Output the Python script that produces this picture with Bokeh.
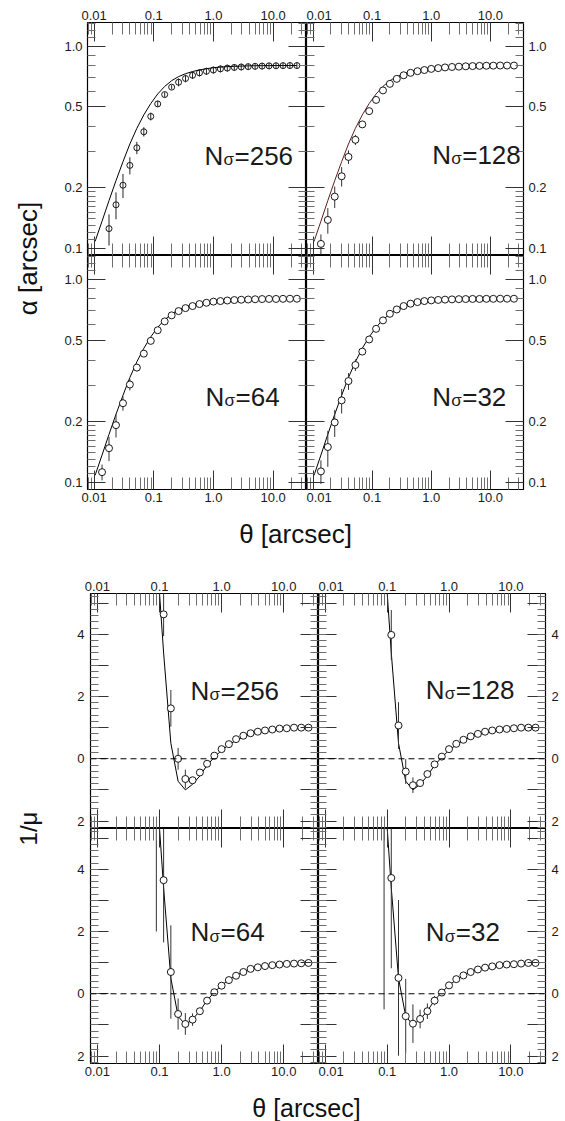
import math
from bokeh.plotting import figure
from bokeh.models import LogAxis, LinearAxis, FixedTicker, Range1d, Label, Span
from bokeh.layouts import row, column
from bokeh.embed import file_html
from bokeh.resources import INLINE
from bokeh.core.properties import value

# angular radius of the profile samples [arcsec]
theta = [0.0104, 0.0136, 0.0178, 0.0233, 0.0305, 0.0398, 0.0521, 0.0682, 0.0891,
         0.1166, 0.1525, 0.1995, 0.261, 0.341, 0.447, 0.584, 0.764, 1.0, 1.31,
         1.71, 2.24, 2.93, 3.83, 5.0, 6.55, 8.56, 11.2, 14.65, 19.16, 25.06]

# deflection angle alpha [arcsec]: input model and reconstructions
alpha_model = [0.108, 0.136, 0.172, 0.216, 0.268, 0.328, 0.392, 0.457, 0.52, 0.58,
               0.632, 0.675, 0.707, 0.731, 0.749, 0.763, 0.774, 0.782, 0.788, 0.792,
               0.795, 0.797, 0.799, 0.80, 0.801, 0.801, 0.802, 0.802, 0.802, 0.802]
alpha_256 = [0.125, 0.164, 0.205, 0.257, 0.314, 0.377, 0.449, 0.518, 0.576, 0.627,
             0.663, 0.692, 0.718, 0.738, 0.751, 0.762, 0.772, 0.779, 0.785, 0.789,
             0.792, 0.795, 0.797, 0.799, 0.80, 0.801, 0.802, 0.802]
alpha_256_err = [0.022, 0.025, 0.028, 0.025, 0.022, 0.02, 0.02, 0.018, 0.016, 0.015,
                 0.03, 0.03, 0.03, 0.03, 0.03, 0.03, 0.03, 0.03, 0.03, 0.03,
                 0.03, 0.03, 0.03, 0.03, 0.03, 0.03, 0.03, 0.03]
alpha_128 = [0.105, 0.138, 0.180, 0.227, 0.283, 0.344, 0.410, 0.477, 0.542, 0.604,
             0.651, 0.689, 0.718, 0.738, 0.752, 0.762, 0.772, 0.779, 0.785, 0.789,
             0.792, 0.795, 0.797, 0.799, 0.80, 0.801, 0.802, 0.802, 0.802]
alpha_128_err = [0.012, 0.02, 0.022, 0.025, 0.022, 0.02, 0.015, 0.01, 0.006, 0.004,
                 0, 0, 0, 0, 0, 0, 0, 0, 0, 0, 0, 0, 0, 0, 0, 0, 0, 0, 0]
alpha_64 = [0.112, 0.147, 0.191, 0.245, 0.303, 0.367, 0.430, 0.497, 0.561, 0.620,
            0.664, 0.697, 0.721, 0.738, 0.755, 0.766, 0.776, 0.781, 0.786, 0.79,
            0.793, 0.795, 0.797, 0.799, 0.80, 0.80, 0.801, 0.802, 0.802]
alpha_64_err = [0.01, 0.02, 0.025, 0.02, 0.02, 0.015, 0.01, 0.006, 0.004, 0,
                0, 0, 0, 0, 0, 0, 0, 0, 0, 0, 0, 0, 0, 0, 0, 0, 0, 0, 0]
alpha_32 = [0.113, 0.149, 0.197, 0.253, 0.315, 0.378, 0.440, 0.505, 0.570, 0.627,
            0.676, 0.710, 0.738, 0.758, 0.772, 0.781, 0.787, 0.791, 0.794, 0.796,
            0.798, 0.799, 0.80, 0.80, 0.801, 0.801, 0.802, 0.802, 0.802]
alpha_32_err = [0.015, 0.03, 0.03, 0.035, 0.03, 0.025, 0.015, 0.01, 0.006, 0,
                0, 0, 0, 0, 0, 0, 0, 0, 0, 0, 0, 0, 0, 0, 0, 0, 0, 0, 0]

# inverse magnification 1/mu: input model and reconstructions
inv_mu_model = [6.8, 3.4, 0.5, -0.72, -1.0, -0.82, -0.55, -0.21, 0.05, 0.27, 0.45,
                0.59, 0.70, 0.78, 0.84, 0.89, 0.92, 0.95, 0.97, 0.98, 0.99, 1.0]
inv_mu_256 = [4.64, 1.62, 0.0, -0.65, -0.69, -0.44, -0.16, 0.10, 0.31, 0.47, 0.63,
              0.74, 0.82, 0.87, 0.91, 0.94, 0.97, 0.98, 1.0, 1.0, 1.0]
inv_mu_256_err = [0.7, 0.59, 0.35, 0.3, 0.1, 0.05, 0, 0, 0, 0, 0,
                  0, 0, 0, 0, 0, 0, 0, 0, 0, 0]
inv_mu_128 = [3.98, 1.07, -0.41, -0.85, -0.78, -0.49, -0.18, 0.07, 0.31, 0.48, 0.61,
              0.72, 0.80, 0.87, 0.91, 0.94, 0.96, 0.98, 1.0, 1.0, 1.0]
inv_mu_128_err = [0.8, 0.75, 0.4, 0.25, 0.1, 0.05, 0, 0, 0, 0, 0,
                  0, 0, 0, 0, 0, 0, 0, 0, 0, 0]
inv_mu_64 = [7.0, 3.65, 0.70, -0.65, -0.97, -0.83, -0.56, -0.22, 0.05, 0.26, 0.44,
             0.58, 0.70, 0.80, 0.85, 0.89, 0.92, 0.94, 0.96, 0.97, 0.98, 0.99]
inv_mu_64_err = [5.0, 2.0, 1.5, 0.5, 0.35, 0.2, 0.1, 0, 0, 0, 0,
                 0, 0, 0, 0, 0, 0, 0, 0, 0, 0, 0]
inv_mu_32 = [8.0, 3.72, 0.51, -0.72, -0.96, -0.81, -0.56, -0.22, 0.04, 0.27, 0.47,
             0.59, 0.70, 0.78, 0.84, 0.88, 0.92, 0.94, 0.95, 0.97, 0.99, 0.99]
inv_mu_32_err = [8.5, 2.9, 2.5, 1.2, 0.62, 0.3, 0.25, 0.15, 0.05, 0, 0,
                 0, 0, 0, 0, 0, 0, 0, 0, 0, 0, 0]

# labelled ticks
x_tick_values = [0.01, 0.1, 1, 10]
x_tick_labels = ["0.01", "0.1", "1.0", "10.0"]
alpha_tick_values = [0.1, 0.2, 0.5, 1]
alpha_tick_labels = ["0.1", "0.2", "0.5", "1.0"]
mu_tick_values = [-2, 0, 2, 4]
mu_tick_labels = ["2", "0", "2", "4"]

# unlabelled tick marks: long and short
x_long = [0.01, 0.1, 1, 10]
x_short = [m * 10.0 ** e for e in range(-3, 2) for m in range(2, 10)]
alpha_long = [0.1, 0.2, 0.5, 1]
alpha_short = [0.09, 0.11, 0.12, 0.13, 0.14, 0.15, 0.16, 0.17, 0.18, 0.19,
               0.3, 0.4, 0.6, 0.7, 0.8, 0.9, 1.1, 1.2, 1.3]
mu_long = [-2, -1, 0, 1, 2, 3, 4, 5]
mu_short = [round(-2.2 + 0.2 * i, 1) for i in range(38)]

FONT = "Liberation Sans"
X_RANGE = (0.00776, 36.3)
ALPHA_RANGE = (0.092, 1.31)
MU_RANGE = (-2.24, 5.31)

frame_sizes = {}


def tick_axis(cls, marks, length, color):
    # an axis that only draws inward tick marks, without labels
    return cls(ticker=FixedTicker(ticks=[], minor_ticks=marks),
               major_tick_in=0, major_tick_out=0,
               minor_tick_in=length, minor_tick_out=0,
               minor_tick_line_color=color, axis_line_color=None,
               major_label_standoff=0)


def label_axis(cls, ticks, labels, standoff):
    return cls(ticker=FixedTicker(ticks=ticks, minor_ticks=[]),
               major_label_overrides={t: l for t, l in zip(ticks, labels)},
               major_tick_in=0, major_tick_out=0,
               minor_tick_in=0, minor_tick_out=0,
               major_tick_line_color=None, axis_line_color=None,
               major_label_text_font=FONT, major_label_text_font_size="13px",
               major_label_text_color="#1a1a1a", major_label_standoff=standoff)


def make_panel(w, h, borders, ylog, shown):
    bl, br, bt, bb = borders
    y_rng = ALPHA_RANGE if ylog else MU_RANGE
    p = figure(width=w, height=h, x_axis_type="log",
               y_axis_type="log" if ylog else "linear",
               x_range=Range1d(*X_RANGE), y_range=Range1d(*y_rng),
               x_axis_location=None, y_axis_location=None,
               toolbar_location=None, output_backend="svg",
               min_border_left=bl, min_border_right=br,
               min_border_top=bt, min_border_bottom=bb,
               outline_line_color="black", outline_line_width=1.2)
    p.grid.grid_line_color = None
    if ylog:
        ycls, ylong, yshort, yt, yl, so = (LogAxis, alpha_long, alpha_short,
                                           alpha_tick_values, alpha_tick_labels, 5)
    else:
        ycls, ylong, yshort, yt, yl, so = (LinearAxis, mu_long, mu_short,
                                           mu_tick_values, mu_tick_labels, 6)
    for side in ("above", "below"):
        p.add_layout(tick_axis(LogAxis, x_long, 19, "#333333"), side)
        p.add_layout(tick_axis(LogAxis, x_short, 12, "#6e6e6e"), side)
        if shown[side]:
            p.add_layout(label_axis(LogAxis, x_tick_values, x_tick_labels, 3), side)
    for side in ("left", "right"):
        p.add_layout(tick_axis(ycls, ylong, 18, "#333333"), side)
        p.add_layout(tick_axis(ycls, yshort, 8, "#6e6e6e"), side)
        if shown[side]:
            p.add_layout(label_axis(ycls, yt, yl, so), side)
    frame_sizes[p.id] = (w - bl - br, h - bt - bb)
    return p


def to_data(rng, frac, log):
    lo, hi = rng
    if log:
        return 10 ** (math.log10(lo) + frac * (math.log10(hi) - math.log10(lo)))
    return lo + frac * (hi - lo)


def add_tag(p, ylog, fx, fy, n):
    fw, fh = frame_sizes[p.id]
    x = to_data(X_RANGE, fx / fw, True)
    y = to_data(ALPHA_RANGE if ylog else MU_RANGE, 1 - fy / fh, ylog)
    common = dict(x=x, y=y, text_font=FONT, text_color="#1a1a1a",
                  text_align="left", text_baseline="alphabetic")
    p.add_layout(Label(text="N", text_font_size="26px", **common))
    p.add_layout(Label(text="σ", text_font_size="17px", x_offset=19, y_offset=-4, **common))
    p.add_layout(Label(text="=" + n, text_font_size="26px", x_offset=30, **common))


def add_points(p, ys, errs, hollow=False, size=7):
    xs = theta[-len(ys):]
    lo = [y - e for y, e in zip(ys, errs)]
    hi = [y + e for y, e in zip(ys, errs)]
    if hollow:
        p.scatter(xs, ys, marker="circle", size=size, line_color="black",
                  fill_color=None, line_width=0.9)
        p.segment(x0=xs, y0=lo, x1=xs, y1=hi, line_color="#222222", line_width=1)
    else:
        p.segment(x0=xs, y0=lo, x1=xs, y1=hi, line_color="#333333", line_width=1)
        p.scatter(xs, ys, marker="circle", size=size, line_color="black",
                  fill_color="white", line_width=0.9)


def text_fig(w, h, txt, cx, cy, size, angle=0.0):
    p = figure(width=w, height=h, x_range=Range1d(0, w), y_range=Range1d(0, h),
               x_axis_location=None, y_axis_location=None, toolbar_location=None,
               output_backend="svg", min_border=0, outline_line_color=None)
    p.grid.grid_line_color = None
    p.text(x=[cx], y=[h - cy], text=[txt], angle=angle, text_align="center",
           text_baseline="middle", text_font=value(FONT), text_font_size=size,
           text_color="#111111")
    return p


# ---- deflection angle block ----
a256 = make_panel(256, 255, (37, 0, 22, 0), True, dict(left=True, right=False, above=True, below=False))
a128 = make_panel(259, 255, (0, 42, 22, 0), True, dict(left=False, right=True, above=True, below=False))
a64 = make_panel(256, 255, (37, 0, 0, 21), True, dict(left=True, right=False, above=False, below=True))
a32 = make_panel(259, 255, (0, 42, 0, 21), True, dict(left=False, right=True, above=False, below=True))

a256.line(theta, alpha_model, line_color="black", line_width=1)
add_points(a256, alpha_256, alpha_256_err, hollow=True, size=6)
a128.line(theta, alpha_model, line_color="#5c1f1f", line_width=1)
add_points(a128, alpha_128, alpha_128_err)
a64.line(theta, alpha_model, line_color="black", line_width=1)
add_points(a64, alpha_64, alpha_64_err)
a32.line(theta, alpha_model, line_color="black", line_width=1)
add_points(a32, alpha_32, alpha_32_err)

add_tag(a256, True, 117, 133, "256")
add_tag(a128, True, 125.7, 132, "128")
add_tag(a64, True, 118, 141, "64")
add_tag(a32, True, 125.7, 141, "32")

# ---- inverse magnification block ----
b256 = make_panel(268, 273, (40, 0, 38, 0), False, dict(left=True, right=False, above=True, below=False))
b128 = make_panel(247, 273, (0, 20, 38, 0), False, dict(left=False, right=True, above=True, below=False))
b64 = make_panel(268, 256, (40, 0, 0, 21), False, dict(left=True, right=False, above=False, below=True))
b32 = make_panel(247, 256, (0, 20, 0, 21), False, dict(left=False, right=True, above=False, below=True))

mu_x = theta[-len(inv_mu_model):]
for p, ys, errs in ((b256, inv_mu_256, inv_mu_256_err), (b128, inv_mu_128, inv_mu_128_err),
                    (b64, inv_mu_64, inv_mu_64_err), (b32, inv_mu_32, inv_mu_32_err)):
    p.add_layout(Span(location=0, dimension="width", line_color="black",
                      line_dash="6 4", line_width=1))
    p.line(mu_x, inv_mu_model, line_color="black", line_width=1)
    add_points(p, ys, errs)

add_tag(b256, False, 100, 97, "256")
add_tag(b128, False, 107.3, 96, "128")
add_tag(b64, False, 100, 103.7, "64")
add_tag(b32, False, 107.3, 103.7, "32")

# ---- axis titles and page layout ----
ylab_up = text_fig(50, 510, "α [arcsec]", 27, 258, "26px", math.pi / 2)
xlab_up = text_fig(565, 45, "θ [arcsec]", 295, 23, "26px")
ylab_lo = text_fig(50, 529, "1/μ", 28, 273, "24px", math.pi / 2)
xlab_lo = text_fig(565, 37, "θ [arcsec]", 306, 23.5, "25px")

upper = column(row(ylab_up, column(row(a256, a128), row(a64, a32))), xlab_up)
lower = column(row(ylab_lo, column(row(b256, b128), row(b64, b32))), xlab_lo)
page = column(upper, lower)

open("out.html", "w").write(file_html(page, INLINE))
